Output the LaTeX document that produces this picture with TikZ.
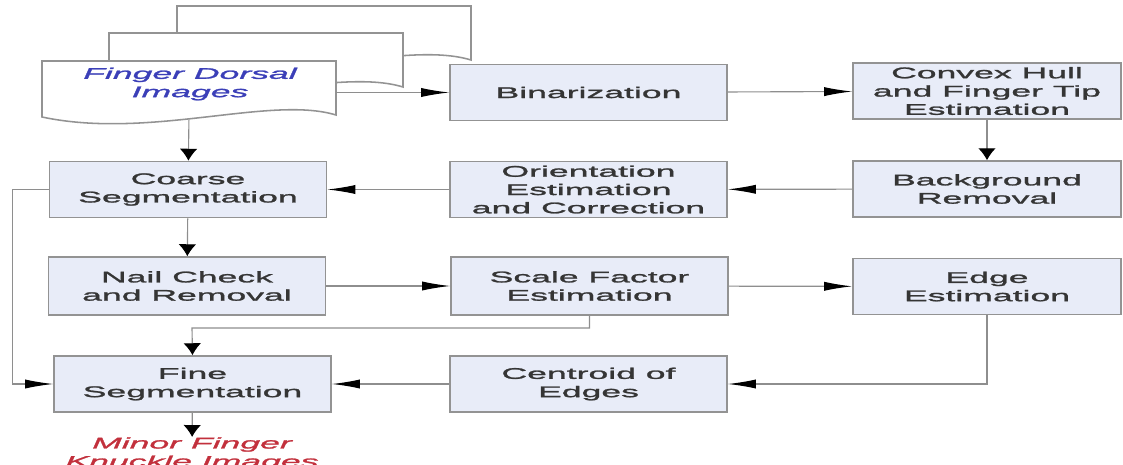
\documentclass[tikz,border=0pt]{standalone}
\usepackage{fontspec}
\usetikzlibrary{arrows.meta}
\newfontfamily\boxfont[FakeStretch=2.3,FakeBold=1.6]{Liberation Sans}
\definecolor{boxfill}{HTML}{E8ECF8}
\definecolor{boxline}{HTML}{939393}
\definecolor{wireline}{HTML}{8E8E8E}
\definecolor{boxtext}{HTML}{353535}
\definecolor{docblue}{HTML}{3B3FB8}
\definecolor{outred}{HTML}{C2303C}

\begin{document}
\begin{tikzpicture}[x=0.025cm,y=-0.025cm,
  stepbox/.style={draw=boxline,line width=1.1pt,fill=boxfill,minimum width=6.925cm,minimum height=1.4cm,align=center,inner sep=0pt,text=boxtext,font=\boxfont\fontsize{11}{13}\selectfont},
  docpage/.style={draw=boxline,line width=1.1pt,fill=white},
  harrow/.style={draw=wireline,line width=0.8pt,-{Latex[length=20pt,width=6.5pt,color=black]}},
  varrow/.style={draw=wireline,line width=0.8pt,-{Latex[length=8.5pt,width=12.5pt,color=black]}}]
\useasboundingbox (0,0) rectangle (1123,465);

\foreach \dx/\dy in {135/-55,67/-28}
  \filldraw [docpage,shift={(\dx,\dy)}] (42,61) -- (336,61) -- (336,115) .. controls (270,95) and (150,140) .. (42,117) -- cycle;
\filldraw [docpage] (42,61) -- (336,61) -- (336,115) .. controls (270,95) and (150,140) .. (42,117) -- cycle;
\node [minimum width=7.35cm,minimum height=1.35cm] (docs) at (189,88) {};
\node [align=center,text=docblue,font=\boxfont\itshape\fontsize{11}{13}\selectfont] (docname) at (190,84) {Finger Dorsal\\Images};

\node [stepbox] (bin) at (588.5,92.5) {Binarization};
\node [stepbox,minimum width=6.7cm] (hull) at (987,91) {Convex Hull\\and Finger Tip\\Estimation};
\node [stepbox] (coarse) at (188,189.5) {Coarse\\Segmentation};
\node [stepbox] (orient) at (588.5,189.5) {Orientation\\Estimation\\and Correction};
\node [stepbox,minimum width=6.7cm] (bg) at (987,189) {Background\\Removal};
\node [stepbox,minimum height=1.45cm] (nail) at (187,286) {Nail Check\\and Removal};
\node [stepbox,minimum height=1.45cm] (scale) at (589.5,286) {Scale Factor\\Estimation};
\node [stepbox,minimum width=6.7cm] (edge) at (987,286.5) {Edge\\Estimation};
\node [stepbox] (fine) at (192.5,384) {Fine\\Segmentation};
\node [stepbox] (centroid) at (588.5,384) {Centroid of\\Edges};
\node [anchor=north,align=center,inner sep=0pt,text=outred,font=\boxfont\itshape\fontsize{11}{13}\selectfont] (out) at (192,437) {Minor Finger\\Knuckle Images};

\coordinate (sbend) at (192,328);
\draw [harrow] (docs.east |- bin) -- (bin);
\draw [varrow,shorten <=3pt] (docs.south) -- (coarse);
\draw [harrow] (bin) -- (hull);
\draw [varrow] (hull) -- (bg);
\draw [harrow] (bg) -- (orient);
\draw [harrow] (orient) -- (coarse);
\draw [varrow] (coarse) -- (nail);
\draw [harrow] (nail) -- (scale);
\draw [harrow] (scale) -- (edge);
\draw [varrow] (scale.south) |- (sbend) -- (fine.north);
\draw [harrow] (edge.south) |- (centroid.east);
\draw [harrow] (centroid) -- (fine);
\draw [harrow] (coarse.west) -- ++(-36,0) |- (fine.west);
\draw [varrow] (fine) -- (out);
\end{tikzpicture}
\end{document}
